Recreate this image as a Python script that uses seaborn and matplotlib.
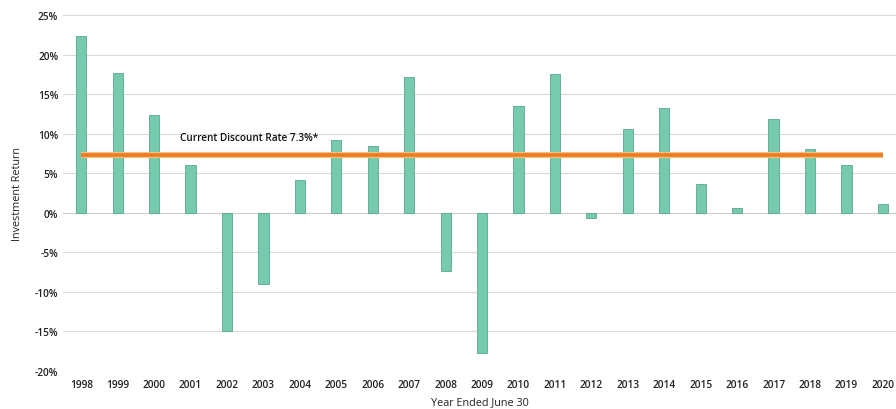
import numpy as np
import pandas as pd
import seaborn as sns
import matplotlib.pyplot as plt

years = ['1998', '1999', '2000', '2001', '2002', '2003', '2004', '2005', '2006', '2007', '2008', '2009',
         '2010', '2011', '2012', '2013', '2014', '2015', '2016', '2017', '2018', '2019', '2020']
returns = [22.3, 17.7, 12.3, 6.0, -15.0, -9.0, 4.2, 9.2, 8.4, 17.1, -7.3, -17.7,
           13.5, 17.5, -0.7, 10.6, 13.3, 3.7, 0.6, 11.9, 8.0, 6.0, 1.1]
discount_rate = 7.3
y_ticks = [-20, -15, -10, -5, 0, 5, 10, 15, 20, 25]

df = pd.DataFrame({'year': years, 'ret': returns})

sns.set_style('white')
plt.rcParams['font.family'] = ['Open Sans', 'DejaVu Sans']

fig = plt.figure(figsize=(8.96, 4.10), dpi=100)
ax = fig.add_axes([63 / 896, 1 - 372 / 410, 1 - 63 / 896, (372 - 16) / 410])

sns.barplot(data=df, x='year', y='ret', color='#76cbae', saturation=1, width=0.28,
            edgecolor='#5aa98e', linewidth=0.6, ax=ax, zorder=3)

# discount rate line across all years
xs = np.arange(len(years))
ax.plot(xs, np.full(len(years), discount_rate), color='#f2c27a', lw=4.4, zorder=4, solid_capstyle='butt')
ax.plot(xs, np.full(len(years), discount_rate), color='#ef7a26', lw=2.6, zorder=5, solid_capstyle='butt')
ax.text(2.72, discount_rate + 1.9, 'Current Discount Rate 7.3%*', fontsize=7.2, color='#111111',
        fontweight='semibold', zorder=6)

ax.set_ylim(-20, 25)
ax.set_xlim(-0.5, 22.36)
ax.set_yticks(y_ticks)
ax.set_yticklabels([f'{t}%' for t in y_ticks])
ax.yaxis.grid(True, color='#d9d9d9', lw=0.8, zorder=0)
ax.axhline(0, color='#cfcfcf', lw=0.8, zorder=1)
ax.tick_params(axis='both', length=0, labelsize=7.3, colors='#222222')
ax.tick_params(axis='x', pad=6)
for lab in ax.get_xticklabels() + ax.get_yticklabels():
    lab.set_fontweight('semibold')
for s in ax.spines.values():
    s.set_visible(False)

ax.set_xlabel('Year Ended June 30', fontsize=7.8, color='#222222', labelpad=4)
ax.set_ylabel('Investment Return', fontsize=7.8, color='#222222', labelpad=8)

plt.savefig('out.png', dpi=100)
